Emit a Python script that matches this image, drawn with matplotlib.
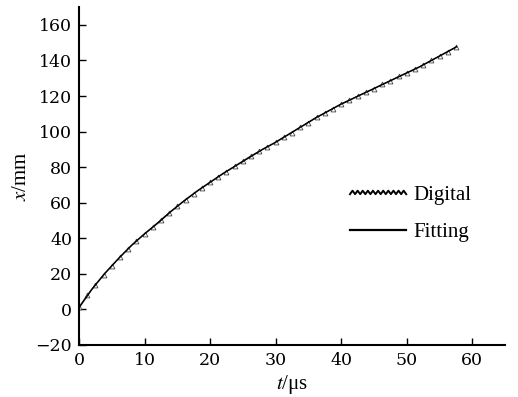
import numpy as np
import matplotlib
matplotlib.use("Agg")
import matplotlib.pyplot as plt
from matplotlib.legend_handler import HandlerBase
from matplotlib.lines import Line2D

plt.rcParams['font.family'] = ['Liberation Serif', 'DejaVu Serif']
plt.rcParams['mathtext.fontset'] = 'stix'

# fitted curve x(t)
t_fit = [0, 2, 4, 6, 8, 10, 12, 14, 16, 18, 20, 22, 24, 26, 28, 30,
         32, 34, 36, 38, 40, 42, 44, 46, 48, 50, 52, 54, 56, 57.6]
x_fit = [1.0, 11.5, 20.5, 28.5, 36.0, 42.5, 48.5, 55.0, 61.0, 66.5, 71.5,
         76.5, 81.0, 85.5, 90.0, 94.0, 98.5, 103.0, 107.5, 111.5, 115.5,
         119.0, 122.5, 126.0, 129.5, 133.0, 136.5, 140.5, 144.5, 147.7]

t_dig = [0, 1.25, 2.5, 3.75, 5, 6.25, 7.5, 8.75, 10, 11.25, 12.5, 13.75,
         15, 16.25, 17.5, 18.75, 20, 21.25, 22.5, 23.75, 25, 26.25, 27.5,
         28.75, 30, 31.25, 32.5, 33.75, 35, 36.25, 37.5, 38.75, 40, 41.25,
         42.5, 43.75, 45, 46.25, 47.5, 48.75, 50, 51.25, 52.5, 53.75, 55,
         56.25, 57.5]
x_dig = [1.5, 8.0, 14.0, 19.5, 24.5, 29.5, 34.0, 38.5, 42.5, 46.5, 50.5,
         54.5, 58.0, 61.5, 65.0, 68.5, 71.5, 74.5, 77.5, 80.5, 83.5, 86.5,
         89.0, 91.5, 94.0, 97.0, 99.5, 102.5, 105.0, 108.0, 110.5, 113.0,
         115.5, 117.5, 120.0, 122.0, 124.0, 126.5, 128.5, 131.0, 133.0,
         135.0, 137.5, 140.0, 142.5, 145.0, 147.5]


class ZigzagHandler(HandlerBase):
    def create_artists(self, legend, orig_handle, xdescent, ydescent,
                       width, height, fontsize, trans):
        n = 22
        xs = np.linspace(-xdescent, width - xdescent, n + 1)
        ys = np.where(np.arange(n + 1) % 2 == 0, 0.38, 0.62) * height - ydescent
        ln = Line2D(xs, ys, color='black', lw=1.4, transform=trans)
        return [ln]


fig = plt.figure(figsize=(5.18, 3.97), dpi=100)
ax = fig.add_axes([0.1525, 0.131, 0.8225, 0.851])

ax.plot(t_dig, x_dig, color='#666666', lw=0.7, marker='^', ms=3.5,
        mfc='white', mec='#444444', mew=0.6)
ax.plot(t_fit, x_fit, color='black', lw=1.1)

ax.set_xlim(0, 65)
ax.set_ylim(-20, 170)
ax.set_xticks([0, 10, 20, 30, 40, 50, 60])
ax.set_yticks([-20, 0, 20, 40, 60, 80, 100, 120, 140, 160])
for s in ['top', 'right']:
    ax.spines[s].set_visible(False)
for s in ['left', 'bottom']:
    ax.spines[s].set_linewidth(1.5)
ax.tick_params(direction='in', length=5, width=1, labelsize=12.5, pad=5)
for lab in ax.get_xticklabels() + ax.get_yticklabels():
    lab.set_family('DejaVu Serif')

ax.set_xlabel('$t$/\u03bcs', fontsize=15, labelpad=3)
ax.set_ylabel('$x$/mm', fontsize=15, labelpad=3)

h1 = Line2D([], [], color='black')
h2 = Line2D([], [], color='black', lw=1.6)
ax.legend([h1, h2], ['Digital', 'Fitting'], handler_map={h1: ZigzagHandler()},
          loc='center left', bbox_to_anchor=(0.592, 0.389), frameon=False,
          fontsize=15, handlelength=2.7, handletextpad=0.35, labelspacing=0.85)

fig.savefig('out.png', dpi=100)
